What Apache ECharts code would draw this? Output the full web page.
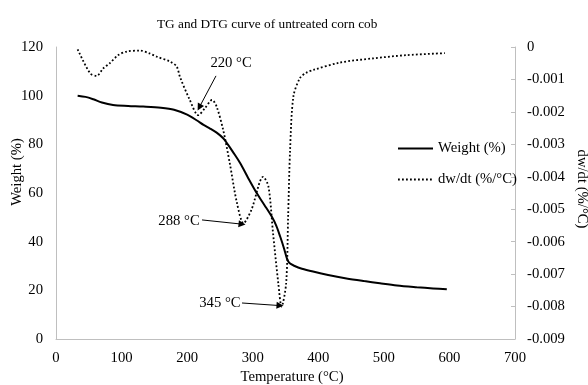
<!DOCTYPE html>
<html>
<head>
<meta charset="utf-8">
<script src="https://cdn.jsdelivr.net/npm/echarts@6/dist/echarts.min.js"></script>
<style>html,body{margin:0;padding:0;background:#fff}#c{width:588px;height:385px}</style>
</head>
<body>
<div id="c"></div>
<script>
var weightT = [33, 45, 57, 70, 87, 110, 133, 160, 180, 200, 215, 225, 235, 245, 255, 262, 270, 281, 293, 306, 318, 329, 336, 342, 348, 352, 356, 364, 375, 392, 415, 443, 470, 494, 520, 550, 575, 596];
var weightV = [100, 99.5, 98.5, 97.2, 96.2, 95.8, 95.5, 95.0, 94.2, 92.2, 89.8, 88.0, 86.5, 84.8, 82.5, 80.0, 76.8, 72.2, 66.2, 60.0, 55.0, 50.3, 46.5, 42.0, 37.0, 33.2, 31.2, 30.0, 28.9, 27.7, 26.3, 24.9, 23.8, 22.9, 22.0, 21.3, 20.8, 20.4];
var dtgT = [33, 52, 62, 72, 82, 95, 108, 128, 143, 154, 174, 184, 189, 204, 217, 227, 238, 245, 255, 265, 276, 286, 298, 316, 324, 331, 339, 344, 351, 354, 357, 362, 372, 382, 392, 433, 484, 535, 593];
var dtgV = [-0.00007, -0.00081, -0.00089, -0.00066, -0.0005, -0.00025, -0.00014, -0.00011, -0.0002, -0.0003, -0.00045, -0.0006, -0.00092, -0.00163, -0.0021, -0.00189, -0.00163, -0.00184, -0.00256, -0.00358, -0.00481, -0.00543, -0.00502, -0.004, -0.0043, -0.00574, -0.00728, -0.008, -0.00728, -0.00523, -0.00317, -0.00153, -0.00096, -0.00079, -0.00071, -0.00048, -0.00035, -0.00025, -0.00019];
var xTicks = [0, 700, 100];
var yLeftTicks = [0, 120, 20];
var yRightTicks = [-0.009, 0, 0.001];
var peakLabels = ['220 °C', '288 °C', '345 °C'];
var peakLabelPos = [[267, -0.00049], [187.6, -0.00536], [250, -0.0079]];
var peakArrows = [[[244, -0.00089], [218.5, -0.00186]], [[222.7, -0.00533], [283.7, -0.00546]], [[283.7, -0.00789], [341.6, -0.00797]]];

var FONT = 'Liberation Serif';
var AX = '#bfbfbf';
function zip(a, b) { return a.map(function (v, i) { return [v, b[i]]; }); }

var chart = echarts.init(document.getElementById('c'));
chart.setOption({
  animation: false,
  backgroundColor: '#fff',
  textStyle: { fontFamily: FONT, color: '#000' },
  title: {
    text: 'TG and DTG curve of untreated corn cob',
    left: 157, top: 18, padding: 0,
    textStyle: { fontFamily: FONT, fontSize: 13.3, fontWeight: 'normal', color: '#000' }
  },
  legend: {
    orient: 'vertical', left: 392, top: 136, itemWidth: 35, itemHeight: 10, itemGap: 16,
    itemStyle: { color: 'rgba(0,0,0,0)', borderColor: 'rgba(0,0,0,0)', borderWidth: 0 },
    textStyle: { fontFamily: FONT, fontSize: 14.7, color: '#000' },
    data: ['Weight (%)', 'dw/dt (%/°C)']
  },
  grid: { left: 56, right: 73, top: 47, bottom: 46 },
  xAxis: {
    type: 'value', min: xTicks[0], max: xTicks[1], interval: xTicks[2],
    axisLine: { lineStyle: { color: AX } }, axisTick: { show: false }, splitLine: { show: false },
    axisLabel: { fontFamily: FONT, fontSize: 14.7, color: '#000', margin: 12 }
  },
  yAxis: [{
    type: 'value', min: yLeftTicks[0], max: yLeftTicks[1], interval: yLeftTicks[2],
    axisLine: { show: true, lineStyle: { color: AX } }, axisTick: { show: false }, splitLine: { show: false },
    axisLabel: { fontFamily: FONT, fontSize: 14.7, color: '#000', margin: 13 }
  }, {
    type: 'value', position: 'right', min: yRightTicks[0], max: yRightTicks[1], interval: yRightTicks[2],
    axisLine: { show: true, lineStyle: { color: AX } },
    axisTick: { show: true, inside: true, length: 4, lineStyle: { color: AX } },
    splitLine: { show: false },
    axisLabel: {
      fontFamily: FONT, fontSize: 14.7, color: '#000', margin: 12,
      formatter: function (v) { return Math.abs(v) < 1e-9 ? '0' : v.toFixed(3); }
    }
  }],
  graphic: [
    { type: 'text', x: 17, y: 172, rotation: Math.PI / 2,
      style: { text: 'Weight (%)', font: '14.7px "Liberation Serif"', fill: '#000', align: 'center', verticalAlign: 'middle' } },
    { type: 'text', x: 582, y: 189, rotation: -Math.PI / 2,
      style: { text: 'dw/dt (%/°C)', font: '14.7px "Liberation Serif"', fill: '#000', align: 'center', verticalAlign: 'middle' } },
    { type: 'text', x: 292, y: 377,
      style: { text: 'Temperature (°C)', font: '14.7px "Liberation Serif"', fill: '#000', align: 'center', verticalAlign: 'middle' } }
  ],
  series: [{
    name: 'Weight (%)', type: 'line', yAxisIndex: 0, data: zip(weightT, weightV),
    smooth: 0.3, symbol: 'none', showSymbol: false,
    lineStyle: { color: '#000', width: 2 }, itemStyle: { color: '#000' }
  }, {
    name: 'dw/dt (%/°C)', type: 'line', yAxisIndex: 1, data: zip(dtgT, dtgV),
    smooth: 0.3, symbol: 'none', showSymbol: false,
    lineStyle: { color: '#000', width: 1.8, type: [1.8, 2.2] }, itemStyle: { color: '#000' },
    markLine: {
      silent: true, symbol: ['none', 'triangle'], symbolSize: 7, animation: false,
      label: { show: false },
      itemStyle: { color: '#000' },
      lineStyle: { color: '#000', width: 1, type: 'solid' },
      data: peakArrows.map(function (a) { return [{ coord: a[0] }, { coord: a[1] }]; })
    },
    markPoint: {
      silent: true, symbol: 'circle', symbolSize: 1, itemStyle: { color: 'rgba(0,0,0,0)' },
      label: { show: true, position: 'inside', fontFamily: FONT, fontSize: 14.7, color: '#000',
        formatter: function (p) { return p.name; } },
      data: peakLabels.map(function (t, i) { return { name: t, coord: peakLabelPos[i] }; })
    }
  }]
});
</script>
</body>
</html>
